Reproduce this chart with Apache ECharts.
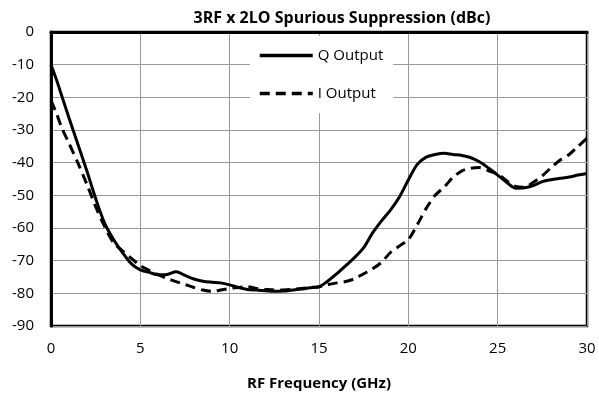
<!DOCTYPE html>
<html>
<head>
<meta charset="utf-8">
<script src="https://cdn.jsdelivr.net/npm/echarts@6/dist/echarts.min.js"></script>
<style>html,body{margin:0;padding:0;background:#fff}#c{width:599px;height:404px}</style>
</head>
<body>
<div id="c"></div>
<script>
// RF frequency (GHz)
const freq = [0,0.3,0.6,1,1.5,2,2.5,3,3.5,4,4.5,5,5.5,6,6.5,7,7.5,8,8.5,9,9.5,10,10.5,11,11.5,12,12.5,13,13.5,14,14.5,15,15.5,16,16.5,17,17.5,18,18.5,19,19.5,20,20.5,21,21.5,22,22.5,23,23.5,24,24.5,25,25.5,26,26.5,27,27.5,28,28.5,29,29.5,30];
// Q Output (dBc)
const qOut = [-10,-14.5,-19.5,-26.2,-34.3,-42.4,-51,-58.5,-63.5,-67.5,-71,-72.8,-73.6,-74.3,-74.2,-73.4,-74.5,-75.6,-76.3,-76.6,-76.8,-77.4,-78.2,-78.8,-79,-79.2,-79.4,-79.3,-79,-78.7,-78.3,-78,-76.2,-74,-71.5,-69,-66,-61.5,-57.8,-54.5,-50.5,-45.3,-40.5,-38.3,-37.5,-37.1,-37.5,-37.8,-38.5,-39.8,-41.7,-43.8,-46,-47.8,-47.7,-47,-45.8,-45.2,-44.8,-44.4,-43.8,-43.3];
// I Output (dBc)
const iOut = [-21,-24.8,-29.3,-34,-40,-46.5,-53.5,-59.5,-64.5,-67,-69.3,-71.5,-73,-74.3,-75.5,-76.4,-77.3,-78.2,-79,-79.4,-79,-78.5,-78.2,-78,-78.5,-78.8,-79,-79,-78.8,-78.5,-78.2,-78,-77.3,-76.8,-76.4,-75.5,-74,-72.5,-70.5,-67.5,-65.5,-63.5,-59,-54,-50,-47.5,-44.5,-42.5,-41.7,-41.5,-42.5,-43.5,-45.5,-47.3,-47.5,-46,-44,-41.5,-39.2,-37.5,-35,-32.5];
const seriesNames = ['Q Output','I Output'];
const titleText = '3RF x 2LO Spurious Suppression (dBc)';
const xTitle = 'RF Frequency (GHz)';

const font = '"Open Sans", sans-serif';
const chart = echarts.init(document.getElementById('c'), null, {renderer:'canvas'});
chart.setOption({
  animation:false,
  backgroundColor:'#fff',
  title:{text:titleText,left:337,top:5,textAlign:'center',
    textStyle:{fontFamily:font,fontSize:16,fontWeight:'bold',color:'#000'}},
  grid:{left:51,right:12,top:32,bottom:78,show:true,borderColor:'#000',borderWidth:2.5},
  legend:{orient:'vertical',left:250,top:36,itemWidth:53,itemHeight:14,itemGap:23,
    backgroundColor:'#fff',padding:[12,10,12,8],
    lineStyle:{width:3.5},
    textStyle:{fontFamily:font,fontSize:15,color:'#000'},
    data:seriesNames.map(n=>({name:n,itemStyle:{opacity:0}}))},
  xAxis:{type:'value',min:0,max:30,interval:5,
    name:xTitle,nameLocation:'middle',nameGap:50,
    nameTextStyle:{fontFamily:font,fontSize:15,fontWeight:'bold',color:'#000'},
    axisLine:{show:true,lineStyle:{color:'#000',width:3}},
    axisTick:{show:false},
    axisLabel:{fontFamily:font,fontSize:15,color:'#000',margin:15},
    splitLine:{show:true,lineStyle:{color:'#999',width:1}}},
  yAxis:{type:'value',min:-90,max:0,interval:10,
    axisLine:{show:true,lineStyle:{color:'#000',width:3}},
    axisTick:{show:false},
    axisLabel:{fontFamily:font,fontSize:15,color:'#000',margin:17},
    splitLine:{show:true,lineStyle:{color:'#999',width:1}}},
  series:[
    {name:seriesNames[0],type:'line',smooth:0.3,symbol:'none',
      data:freq.map((f,i)=>[f,qOut[i]]),
      lineStyle:{color:'#000',width:3},itemStyle:{color:'#000'},z:3},
    {name:seriesNames[1],type:'line',smooth:0.3,symbol:'none',
      data:freq.map((f,i)=>[f,iOut[i]]),
      lineStyle:{color:'#000',width:3,type:[10,6]},itemStyle:{color:'#000'},z:2}
  ]
});
</script>
</body>
</html>
